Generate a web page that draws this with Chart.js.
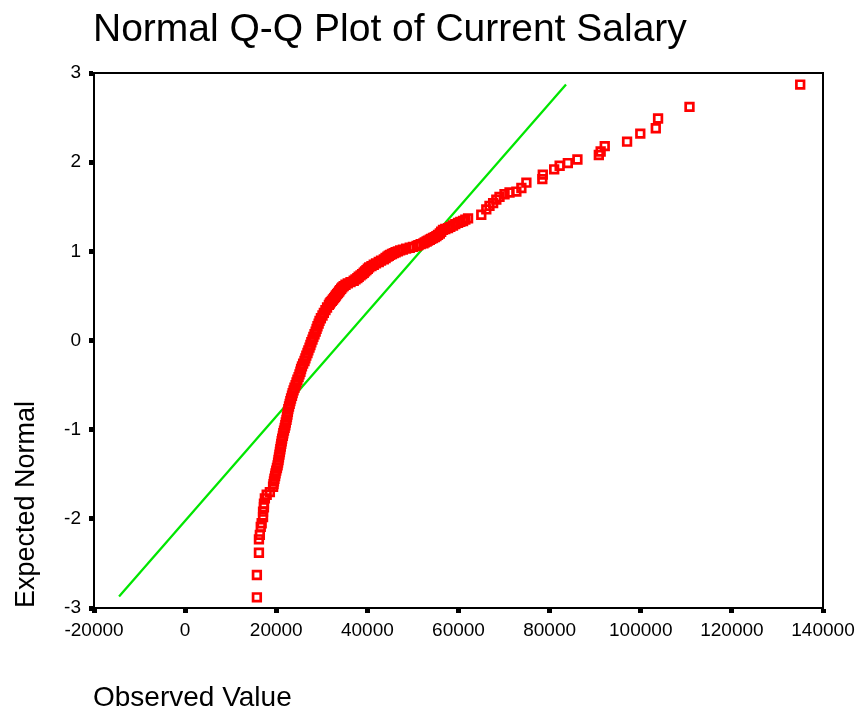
<!DOCTYPE html>
<html>
<head>
<meta charset="utf-8">
<script src="https://cdn.jsdelivr.net/npm/chart.js@4.4.0/dist/chart.umd.min.js"></script>
<style>
  html, body { margin: 0; padding: 0; background: #ffffff; }
  #wrap { width: 861px; height: 709px; }
</style>
</head>
<body>
<div id="wrap"><canvas id="c" width="861" height="709"></canvas></div>
<script>
// ---- Data ----
const chartTitle = 'Normal Q-Q Plot of Current Salary';
const xAxisTitle = 'Observed Value';
const yAxisTitle = 'Expected Normal';

const xTickValues = [-20000, 0, 20000, 40000, 60000, 80000, 100000, 120000, 140000];
const xTickLabels = ['-20000', '0', '20000', '40000', '60000', '80000', '100000', '120000', '140000'];
const yTickValues = [-3, -2, -1, 0, 1, 2, 3];
const yTickLabels = ['-3', '-2', '-1', '0', '1', '2', '3'];

// Observed salaries (x) and their expected normal values (y)
const observedSalary = [
  15750, 15750, 16200, 16200, 16400, 16600, 16800, 17100, 17100, 17300, 17300, 17500, 17900, 18600, 19300,
  19400, 19500, 19600, 19750, 19850, 20000, 20150, 20300, 20400, 20500, 20600, 20700, 20800, 20900, 21000,
  21100, 21200, 21300, 21450, 21550, 21700, 21850, 22000, 22100, 22250, 22350, 22450, 22550, 22650, 22800,
  22950, 23100, 23250, 23450, 23600, 23800, 24000, 24250, 24450, 24650, 24900, 25100, 25300, 25450, 25650,
  25900, 26200, 26400, 26600, 26850, 27050, 27300, 27500, 27700, 27950, 28150, 28400, 28650, 28850, 29050,
  29300, 29500, 29800, 30150, 30450, 30800, 31150, 31550, 31750, 31950, 32200, 32450, 32700, 32900, 33100,
  33350, 33550, 33800, 34000, 34250, 34500, 34800, 35200, 35700, 36300, 37000, 37400, 37800, 38100, 38500,
  38850, 39200, 39500, 39800, 40100, 40400, 40900, 41400, 41900, 42500, 43000, 43600, 44000, 44400, 44700,
  45000, 45400, 45800, 46200, 46700, 47200, 47800, 48500, 49300, 50000, 50800, 51200, 51700, 52300, 52600,
  53000, 53300, 53700, 54000, 54400, 54800, 55150, 55500, 55900, 56200, 56600, 57100, 57700, 58200, 58800,
  59300, 59900, 60400, 61000, 61500, 62100, 65000, 66100, 66800, 67600, 68300, 69000, 70100, 71200, 72700,
  73800, 74900, 78400, 78500, 81000, 82200, 84000, 86100, 90800, 91200, 92100, 97000, 99900, 103300, 103800,
  110700, 135000
];
const expectedNormal = [
  -2.88, -2.63, -2.38, -2.23, -2.18, -2.09, -2.05, -1.98, -1.92, -1.87, -1.83, -1.77, -1.73, -1.70, -1.64,
  -1.61, -1.58, -1.55, -1.52, -1.49, -1.46, -1.43, -1.40, -1.37, -1.34, -1.31, -1.28, -1.25, -1.22, -1.19,
  -1.16, -1.13, -1.10, -1.07, -1.04, -1.01, -0.98, -0.95, -0.92, -0.89, -0.86, -0.83, -0.80, -0.77, -0.74,
  -0.71, -0.68, -0.65, -0.62, -0.59, -0.56, -0.53, -0.50, -0.47, -0.44, -0.41, -0.38, -0.35, -0.32, -0.29,
  -0.26, -0.23, -0.20, -0.17, -0.14, -0.11, -0.08, -0.05, -0.02, 0.01, 0.04, 0.07, 0.10, 0.13, 0.16,
  0.19, 0.22, 0.25, 0.28, 0.31, 0.34, 0.37, 0.40, 0.415, 0.43, 0.445, 0.46, 0.475, 0.49, 0.505,
  0.52, 0.535, 0.55, 0.565, 0.58, 0.595, 0.61, 0.625, 0.64, 0.655, 0.67, 0.685, 0.70, 0.715, 0.73,
  0.745, 0.76, 0.775, 0.79, 0.805, 0.82, 0.835, 0.85, 0.865, 0.88, 0.895, 0.91, 0.925, 0.94, 0.95,
  0.96, 0.97, 0.98, 0.99, 1.00, 1.01, 1.02, 1.03, 1.04, 1.05, 1.06, 1.07, 1.08, 1.09, 1.10,
  1.11, 1.12, 1.13, 1.14, 1.15, 1.16, 1.17, 1.185, 1.20, 1.22, 1.24, 1.25, 1.26, 1.275, 1.29,
  1.305, 1.32, 1.33, 1.34, 1.355, 1.37, 1.41, 1.47, 1.51, 1.54, 1.58, 1.61, 1.64, 1.66, 1.67,
  1.71, 1.77, 1.81, 1.86, 1.92, 1.96, 1.99, 2.03, 2.08, 2.12, 2.18, 2.23, 2.32, 2.38, 2.49,
  2.62, 2.87
];

// Reference (normal) line end points
const lineX = [-14500, 83600];
const lineY = [-2.87, 2.87];

// ---- Chart ----
const FONT = 'Arial, "Liberation Sans", sans-serif';

const pointData = observedSalary.map((v, i) => ({ x: v, y: expectedNormal[i] }));
const lineData = lineX.map((v, i) => ({ x: v, y: lineY[i] }));

const textPlugin = {
  id: 'texts',
  afterDraw(chart) {
    const ctx = chart.ctx;
    const a = chart.chartArea;
    ctx.save();
    // frame top & right
    ctx.strokeStyle = '#000';
    ctx.lineWidth = 2;
    ctx.beginPath();
    ctx.moveTo(a.left, a.top);
    ctx.lineTo(a.right, a.top);
    ctx.lineTo(a.right, a.bottom);
    ctx.stroke();

    ctx.fillStyle = '#000';
    ctx.textBaseline = 'alphabetic';
    ctx.textAlign = 'left';
    ctx.font = '39px ' + FONT;
    ctx.fillText(chartTitle, 93, 41);

    ctx.font = '28px ' + FONT;
    ctx.fillText(xAxisTitle, 93, 706);

    ctx.font = '27px ' + FONT;
    ctx.translate(34, 608);
    ctx.rotate(-Math.PI / 2);
    ctx.fillText(yAxisTitle, 0, 0);
    ctx.restore();
  }
};

new Chart(document.getElementById('c'), {
  type: 'scatter',
  data: {
    datasets: [
      {
        label: 'Observed',
        data: pointData,
        pointStyle: 'rect',
        pointRadius: 5.4,
        borderWidth: 2.7,
        borderColor: '#ff0000',
        backgroundColor: 'rgba(0,0,0,0)',
        order: 0
      },
      {
        type: 'line',
        label: 'Normal line',
        data: lineData,
        showLine: true,
        borderColor: '#00e600',
        borderWidth: 2.3,
        pointRadius: 0,
        fill: false,
        order: 1
      }
    ]
  },
  options: {
    responsive: false,
    animation: false,
    devicePixelRatio: 1,
    layout: { padding: { top: 73, right: 38, left: 0, bottom: 0 } },
    plugins: {
      legend: { display: false },
      title: { display: false },
      tooltip: { enabled: false }
    },
    scales: {
      x: {
        type: 'linear',
        min: -20000,
        max: 140000,
        afterFit(s) { s.height = 101; },
        afterBuildTicks(s) { s.ticks = xTickValues.map(v => ({ value: v })); },
        border: { display: true, color: '#000', width: 2 },
        grid: { drawOnChartArea: false, drawTicks: true, tickLength: 5, tickWidth: 5, tickColor: '#000', color: '#000' },
        ticks: {
          autoSkip: false,
          maxRotation: 0,
          padding: 6,
          color: '#000',
          font: { family: FONT, size: 19 },
          callback: (v) => { const i = xTickValues.indexOf(v); return i >= 0 ? xTickLabels[i] : ''; }
        }
      },
      y: {
        type: 'linear',
        min: -3,
        max: 3,
        afterFit(s) { s.width = 94; },
        afterBuildTicks(s) { s.ticks = yTickValues.map(v => ({ value: v })); },
        border: { display: true, color: '#000', width: 2 },
        grid: { drawOnChartArea: false, drawTicks: true, tickLength: 5, tickWidth: 5, tickColor: '#000', color: '#000' },
        ticks: {
          autoSkip: false,
          padding: 8,
          color: '#000',
          font: { family: FONT, size: 19 },
          callback: (v) => { const i = yTickValues.indexOf(v); return i >= 0 ? yTickLabels[i] : ''; }
        }
      }
    }
  },
  plugins: [textPlugin]
});
</script>
</body>
</html>
